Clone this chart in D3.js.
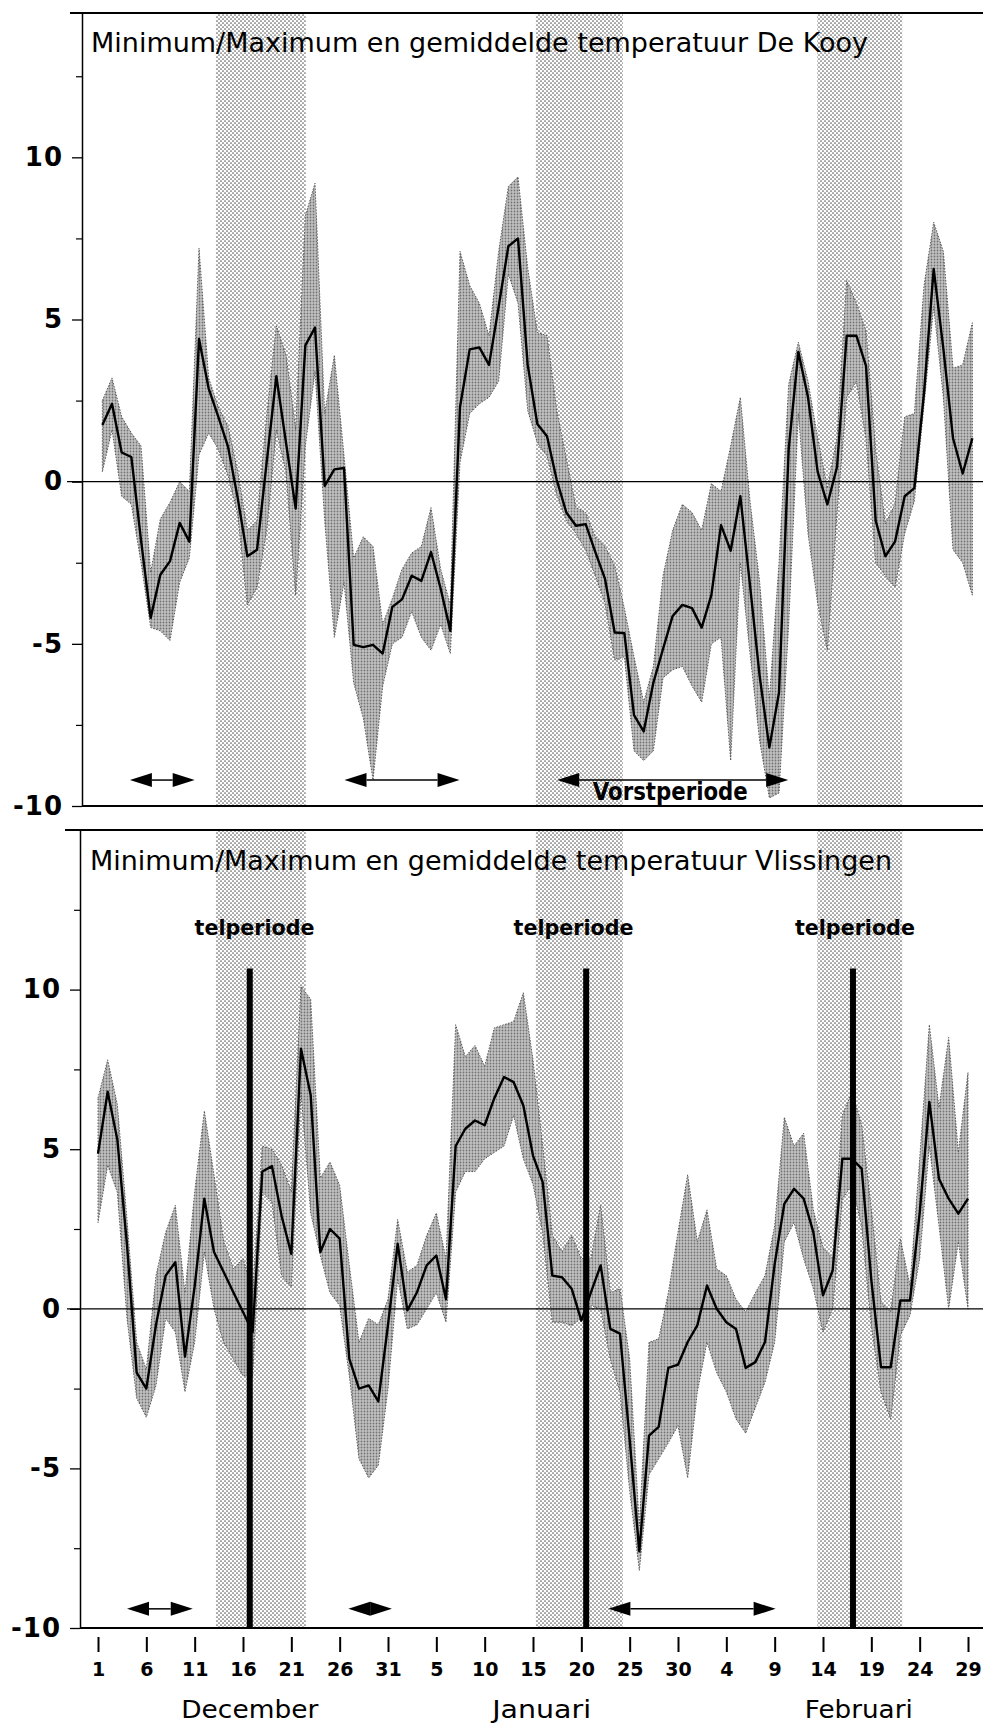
<!DOCTYPE html>
<html>
<head>
<meta charset="utf-8">
<script src="https://cdn.jsdelivr.net/npm/d3@7"></script>
<style>
  body { margin: 0; background: #fff; }
  text { font-family: "DejaVu Sans", "Liberation Sans", Arial, sans-serif; fill: #000; }
</style>
</head>
<body>
<div id="chart"></div>
<script>
// day labels under the x axis, every 5 days from 1 December
const dayTicks = ["1", "6", "11", "16", "21", "26", "31", "5", "10", "15", "20", "25", "30", "4", "9", "14", "19", "24", "29"];
const monthNames = ["December", "Januari", "Februari"];

// De Kooy, daily values from 1 Dec to 29 Feb (degrees C)
const kooyMean = [1.75, 2.4, 0.9, 0.76, -1.8, -4.2, -2.87, -2.45, -1.27, -1.85,
  4.4, 2.87, 2.0, 1.08, -0.5, -2.3, -2.1, 0.6, 3.25, 1.2,
  -0.83, 4.2, 4.75, -0.13, 0.38, 0.42, -5.03, -5.1, -5.03, -5.3,
  -3.86, -3.63, -2.9, -3.06, -2.17, -3.3, -4.6, 2.3, 4.08, 4.14,
  3.6, 5.4, 7.26, 7.5, 3.6, 1.78, 1.4, 0.06, -0.95, -1.36,
  -1.31, -2.17, -3.0, -4.65, -4.67, -7.2, -7.7, -6.2, -5.16, -4.14,
  -3.8, -3.9, -4.5, -3.5, -1.34, -2.13, -0.45, -3.2, -6.0, -8.2,
  -6.5, 1.0, 4.0, 2.6, 0.3, -0.7, 0.45, 4.5, 4.5, 3.57,
  -1.2, -2.3, -1.85, -0.45, -0.2, 2.74, 6.56, 4.1, 1.34, 0.25, 1.34];
const kooyMax = [2.5, 3.2, 2.0, 1.5, 1.1, -2.8, -1.15, -0.64, 0.0, -0.3,
  7.2, 3.2, 2.3, 1.7, 0.3, -1.5, -1.2, 2.0, 4.8, 3.9,
  1.6, 8.2, 9.2, 2.1, 3.9, 0.8, -2.35, -1.7, -2.0, -4.4,
  -3.6, -2.7, -2.2, -2.0, -0.8, -2.7, -3.8, 7.1, 6.05, 5.5,
  4.5, 7.1, 9.1, 9.4, 6.6, 4.6, 4.5, 2.2, 0.7, -0.8,
  -0.95, -1.7, -2.0, -2.6, -3.9, -5.4, -6.8, -5.7, -2.9, -1.5,
  -0.7, -0.95, -1.5, -0.06, -0.3, 1.1, 2.6, -0.6, -3.1, -6.7,
  -2.5, 3.0, 4.3, 3.1, 1.34, -0.2, 1.34, 6.2, 5.5, 4.65,
  0.96, -1.3, -0.7, 2.0, 2.1, 6.05, 8.0, 7.1, 3.5, 3.6, 4.9];
const kooyMin = [0.3, 1.6, -0.45, -0.7, -2.5, -4.5, -4.6, -4.9, -3.1, -2.35,
  0.83, 1.5, 1.0, 0.2, -1.0, -3.8, -3.25, -1.5, 1.6, 0.3,
  -3.5, 1.1, 3.4, -1.2, -4.8, -3.1, -6.2, -7.3, -9.2, -6.3,
  -5.0, -4.8, -4.0, -4.8, -5.2, -4.4, -5.3, 0.6, 2.1, 2.4,
  2.6, 3.1, 6.4, 5.5, 2.2, 1.2, 0.8, -0.4, -1.2, -1.6,
  -2.1, -2.9, -3.75, -5.5, -5.4, -8.3, -8.6, -8.3, -6.05, -5.8,
  -5.7, -6.3, -6.8, -5.0, -4.8, -8.6, -2.5, -5.3, -8.0, -9.75,
  -9.6, -4.4, 2.1, -1.6, -3.75, -5.2, -0.95, 2.6, 3.1, 1.34,
  -2.5, -2.9, -3.25, -1.6, -0.6, 2.36, 5.4, 2.6, -2.1, -2.5, -3.5];

// Vlissingen
const vlisMean = [4.86, 6.8, 5.3, 2.0, -2.0, -2.5, -0.5, 1.04, 1.46, -1.5,
  0.7, 3.45, 1.78, 1.15, 0.52, -0.1, -0.73, 4.3, 4.47, 2.9,
  1.72, 8.15, 6.7, 1.78, 2.5, 2.2, -1.57, -2.5, -2.4, -2.9,
  -0.5, 2.04, -0.05, 0.52, 1.36, 1.67, 0.3, 5.1, 5.64, 5.9,
  5.75, 6.6, 7.26, 7.1, 6.37, 4.8, 3.97, 1.04, 0.99, 0.63,
  -0.37, 0.52, 1.36, -0.63, -0.78, -4.1, -7.6, -3.97, -3.7, -1.85,
  -1.75, -1.04, -0.52, 0.73, 0.0, -0.42, -0.63, -1.85, -1.67, -1.04,
  1.4, 3.29, 3.76, 3.45, 2.4, 0.42, 1.2, 4.7, 4.7, 4.39,
  0.9, -1.83, -1.83, 0.26, 0.26, 3.0, 6.48, 4.07, 3.45, 2.98, 3.45];
const vlisMax = [6.6, 7.8, 6.4, 2.8, -1.05, -1.9, 1.04, 2.4, 3.24, 0.5,
  3.66, 6.2, 4.2, 2.1, 1.25, 1.57, 0.5, 5.1, 5.0, 4.5,
  3.66, 10.1, 9.7, 4.1, 4.6, 3.87, 1.36, -1.05, -0.3, -0.5,
  0.3, 2.8, 1.15, 1.36, 2.3, 3.0, 1.57, 8.9, 7.9, 8.25,
  7.6, 8.8, 8.9, 9.0, 9.9, 7.8, 5.1, 2.3, 1.78, 2.3,
  1.57, 1.57, 3.24, 0.5, 0.63, -1.57, -6.8, -1.05, -0.94, 0.5,
  2.4, 4.2, 2.1, 3.1, 1.25, 1.04, 0.3, -0.1, 0.5, 1.04,
  2.6, 6.0, 5.1, 5.5, 3.1, 1.9, 1.57, 6.06, 6.8, 5.75,
  3.1, 0.2, -0.1, 2.2, 0.73, 4.7, 8.9, 6.3, 8.5, 4.9, 7.4];
const vlisMin = [2.7, 4.5, 3.65, -0.3, -2.8, -3.4, -2.4, -0.3, -0.73, -2.6,
  -1.05, 1.78, 0.0, -1.05, -1.57, -2.1, -2.1, 3.66, 3.34, 1.04,
  0.68, 6.8, 3.0, 1.67, 0.5, 0.1, -2.1, -4.7, -5.3, -4.9,
  -2.5, 0.94, -0.63, -0.5, 0.0, 0.5, -0.42, 3.66, 4.3, 4.3,
  4.7, 4.9, 5.1, 6.06, 4.7, 3.9, 2.4, -0.42, -0.42, -0.52,
  -0.3, 0.1, 0.0, -1.57, -2.6, -5.7, -8.2, -5.2, -4.7, -4.2,
  -3.66, -5.3, -2.6, -1.05, -2.0, -2.6, -3.45, -3.9, -3.1, -2.3,
  -1.05, 2.1, 2.7, 1.57, 0.63, -0.73, 0.0, 3.45, 3.87, 2.6,
  -0.52, -2.6, -3.45, -0.84, -0.2, 1.57, 5.1, 2.6, 0.0, 2.1, 0.0];

// shaded periods and marked periods, in days after 1 December
const bandDays = [[12.2, 21.5], [45.3, 54.3], [74.4, 83.2]];
const telDays = [15.7, 50.5, 78.1];
const kooyArrows = [[3.3, 10.0], [25.5, 37.4], [47.5, 71.4]];
const vlisArrows = [[3.0, 9.8], [25.9, 30.4], [52.8, 70.1]];

const width = 983;
const height = 1724;

const svg = d3.select("#chart").append("svg")
  .attr("width", width)
  .attr("height", height);

// halftone look: light dots for the periods, dense dots for min/max
const defs = svg.append("defs");
let bandPat = defs.append("pattern").attr("id", "bandDots")
  .attr("width", 4).attr("height", 4).attr("patternUnits", "userSpaceOnUse");
bandPat.append("rect").attr("width", 4).attr("height", 4).attr("fill", "#ffffff");
bandPat.append("circle").attr("cx", 1).attr("cy", 1).attr("r", 0.85).attr("fill", "#606060");
bandPat.append("circle").attr("cx", 3).attr("cy", 3).attr("r", 0.85).attr("fill", "#606060");

let envPat = defs.append("pattern").attr("id", "envDots")
  .attr("width", 3).attr("height", 3).attr("patternUnits", "userSpaceOnUse");
envPat.append("rect").attr("width", 3).attr("height", 3).attr("fill", "#c2c2c2");
envPat.append("circle").attr("cx", 1.5).attr("cy", 1.5).attr("r", 0.9).attr("fill", "#727272");

const x = d3.scaleLinear().domain([0, 90]).range([98, 968]);

const panels = [
  { title: "Minimum/Maximum en gemiddelde temperatuur De Kooy", titleLen: 777, titleY: 52,
    mean: kooyMean, max: kooyMax, min: kooyMin, arrows: kooyArrows, shift: 0.45,
    top: 13, bottom: 806, yMax: 14.45, axisX: 82, borderX: 70, telperiode: false },
  { title: "Minimum/Maximum en gemiddelde temperatuur Vlissingen", titleLen: 802, titleY: 870,
    mean: vlisMean, max: vlisMax, min: vlisMin, arrows: vlisArrows, shift: 0,
    top: 830, bottom: 1628, yMax: 15, axisX: 80, borderX: 65, telperiode: true }
];

// double headed arrow, heads meet in the middle when the span is short
function arrowShape(g, x1, x2, yy) {
  let hl = Math.min(22, (x2 - x1) / 2);
  let hw = 7;
  g.append("line")
    .attr("x1", x1 + hl).attr("x2", x2 - hl)
    .attr("y1", yy).attr("y2", yy)
    .attr("stroke", "#000").attr("stroke-width", 1.5);
  g.append("path")
    .attr("d", `M${x1},${yy}L${x1 + hl},${yy - hw}L${x1 + hl},${yy + hw}Z`)
    .attr("fill", "#000");
  g.append("path")
    .attr("d", `M${x2},${yy}L${x2 - hl},${yy - hw}L${x2 - hl},${yy + hw}Z`)
    .attr("fill", "#000");
}

function drawPanel(p) {
  let y = d3.scaleLinear().domain([-10, p.yMax]).range([p.bottom, p.top]);
  let g = svg.append("g");

  g.selectAll("rect.band").data(bandDays).join("rect")
    .attr("class", "band")
    .attr("x", d => x(d[0]))
    .attr("width", d => x(d[1]) - x(d[0]))
    .attr("y", p.top)
    .attr("height", p.bottom - p.top)
    .attr("fill", "url(#bandDots)");

  let area = d3.area()
    .x((d, i) => x(i + p.shift))
    .y0((d, i) => y(p.min[i]))
    .y1((d, i) => y(p.max[i]));
  g.append("path").datum(p.mean)
    .attr("d", area)
    .attr("fill", "url(#envDots)")
    .attr("stroke", "#4a4a4a")
    .attr("stroke-width", 0.9)
    .attr("stroke-dasharray", "1.5,1.5");

  g.append("line")
    .attr("x1", 67).attr("x2", width)
    .attr("y1", y(0)).attr("y2", y(0))
    .attr("stroke", "#000").attr("stroke-width", 1.2);

  let line = d3.line()
    .x((d, i) => x(i + p.shift))
    .y(d => y(d));
  g.append("path").datum(p.mean)
    .attr("d", line)
    .attr("fill", "none")
    .attr("stroke", "#000")
    .attr("stroke-width", 2.4)
    .attr("stroke-linejoin", "round");

  if (p.telperiode) {
    g.selectAll("line.tel").data(telDays).join("line")
      .attr("class", "tel")
      .attr("x1", d => x(d)).attr("x2", d => x(d))
      .attr("y1", y(10.66)).attr("y2", p.bottom)
      .attr("stroke", "#000").attr("stroke-width", 6);
    let labelAt = [16.2, 49.2, 78.3];
    g.selectAll("text.tel").data(labelAt).join("text")
      .attr("class", "tel")
      .attr("x", d => x(d))
      .attr("y", y(11.7))
      .attr("text-anchor", "middle")
      .attr("font-size", 22)
      .attr("font-weight", "bold")
      .attr("textLength", 120)
      .attr("lengthAdjust", "spacingAndGlyphs")
      .text("telperiode");
  }

  let arrowY = p.telperiode ? y(-9.4) : y(-9.2);
  for (let a of p.arrows) {
    arrowShape(g, x(a[0]), x(a[1]), arrowY);
  }
  if (!p.telperiode) {
    g.append("text")
      .attr("x", x(59.2))
      .attr("y", y(-9.82))
      .attr("text-anchor", "middle")
      .attr("font-size", 24)
      .attr("font-weight", "bold")
      .attr("textLength", 155)
      .attr("lengthAdjust", "spacingAndGlyphs")
      .text("Vorstperiode");
  }

  g.append("text")
    .attr("x", p.top < 100 ? 91 : 90)
    .attr("y", p.titleY)
    .attr("font-size", 26)
    .attr("textLength", p.titleLen)
    .attr("lengthAdjust", "spacingAndGlyphs")
    .text(p.title);

  // frame: top rule and x axis rule
  g.append("line")
    .attr("x1", p.borderX).attr("x2", width)
    .attr("y1", p.top).attr("y2", p.top)
    .attr("stroke", "#000").attr("stroke-width", 1.8);
  g.append("line")
    .attr("x1", p.axisX).attr("x2", width)
    .attr("y1", p.bottom).attr("y2", p.bottom)
    .attr("stroke", "#000").attr("stroke-width", 2);

  let yAxis = d3.axisLeft(y)
    .tickValues([-10, -5, 0, 5, 10])
    .tickSize(10)
    .tickSizeOuter(0)
    .tickPadding(9)
    .tickFormat(d => String(d));
  let ax = g.append("g")
    .attr("transform", `translate(${p.axisX},0)`)
    .call(yAxis);
  ax.select(".domain").attr("stroke-width", 1.5);
  ax.selectAll(".tick line").attr("stroke-width", 1.3);
  ax.selectAll(".tick text")
    .attr("font-size", 26)
    .attr("font-weight", "bold")
    .attr("letter-spacing", 1)
    .attr("font-family", "'DejaVu Sans', 'Liberation Sans', Arial, sans-serif");

  let minor = d3.axisLeft(y)
    .tickValues([-7.5, -2.5, 2.5, 7.5, 12.5])
    .tickSize(6)
    .tickFormat("");
  g.append("g")
    .attr("transform", `translate(${p.axisX},0)`)
    .call(minor)
    .call(s => s.select(".domain").remove())
    .selectAll(".tick line").attr("stroke-width", 1.2);
}

panels.forEach(drawPanel);

// day axis below the lower panel
let xAxis = d3.axisBottom(x)
  .tickValues(d3.range(0, 91, 5))
  .tickFormat((d, i) => dayTicks[i])
  .tickSize(15)
  .tickPadding(11);
let xa = svg.append("g")
  .attr("transform", "translate(0,1637)")
  .call(xAxis);
xa.select(".domain").remove();
xa.selectAll(".tick line").attr("stroke-width", 2);
xa.selectAll(".tick text")
  .attr("font-size", 19)
  .attr("font-weight", "bold")
  .attr("font-family", "'DejaVu Sans', 'Liberation Sans', Arial, sans-serif");

let monthAt = [15.7, 45.9, 78.7];
let monthLen = [137, 99, 108];
svg.selectAll("text.month").data(monthNames).join("text")
  .attr("class", "month")
  .attr("x", (d, i) => x(monthAt[i]))
  .attr("y", 1718)
  .attr("text-anchor", "middle")
  .attr("font-size", 25)
  .attr("textLength", (d, i) => monthLen[i])
  .attr("lengthAdjust", "spacingAndGlyphs")
  .text(d => d);
</script>
</body>
</html>
